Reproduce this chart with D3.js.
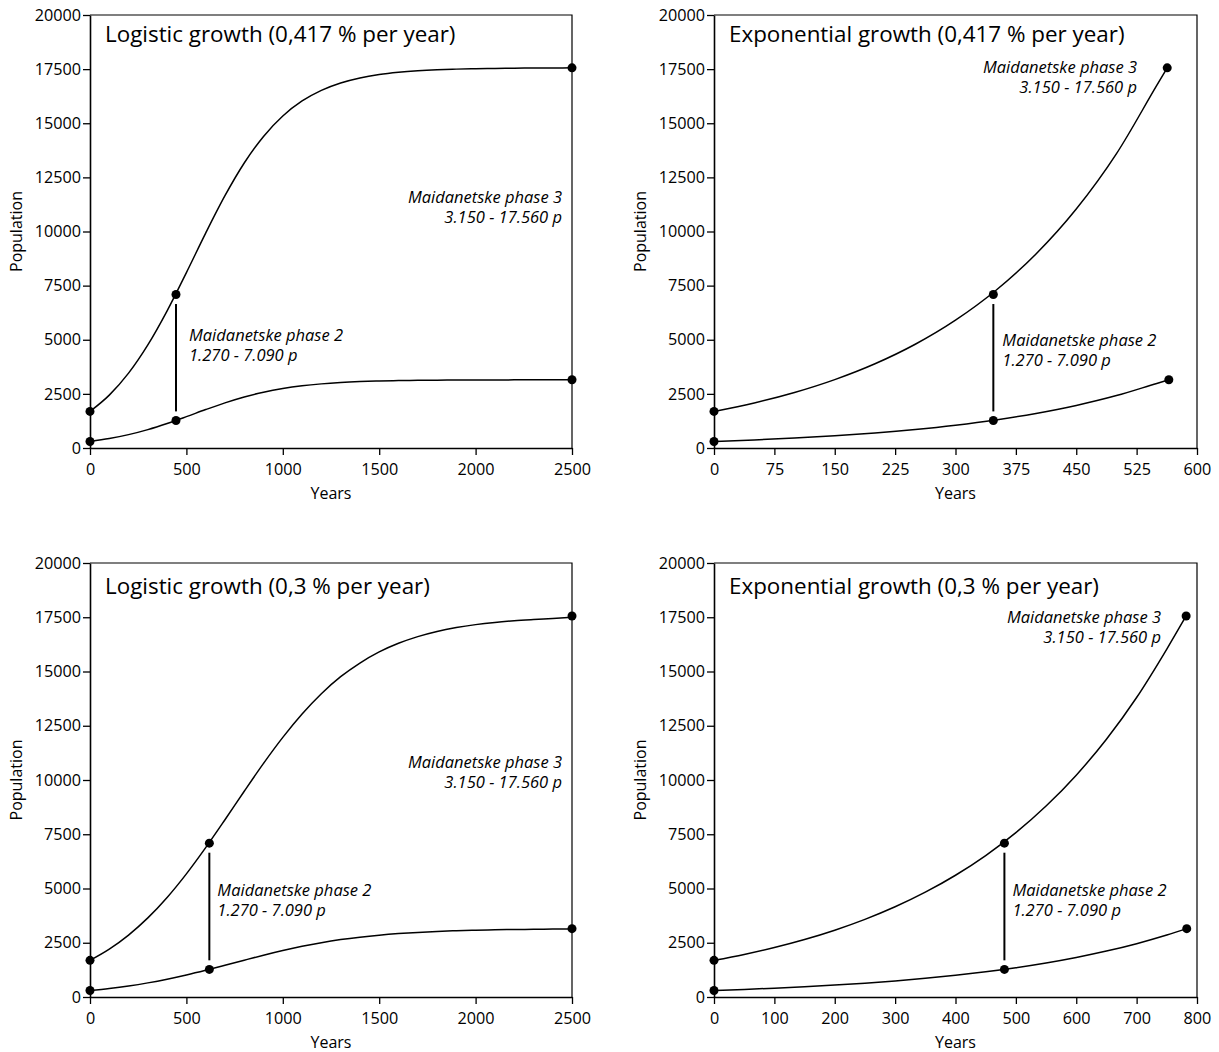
<!DOCTYPE html>
<html>
<head>
<meta charset="utf-8">
<script src="https://cdn.jsdelivr.net/npm/d3@7"></script>
<style>
  html, body { margin: 0; padding: 0; background: #fff; }
  svg { display: block; font-family: "Open Sans", "Noto Sans", sans-serif; }
</style>
</head>
<body>
<svg id="chart" width="1219" height="1052"></svg>
<script>
// ---------------- DATA ----------------
const yTicks = [0, 2500, 5000, 7500, 10000, 12500, 15000, 17500, 20000];
const xTicksLogistic = [0, 500, 1000, 1500, 2000, 2500];
const xTicksExp417 = [0, 75, 150, 225, 300, 375, 450, 525, 600];
const xTicksExp3 = [0, 100, 200, 300, 400, 500, 600, 700, 800];

const titles = [
  "Logistic growth (0,417 % per year)",
  "Exponential growth (0,417 % per year)",
  "Logistic growth (0,3 % per year)",
  "Exponential growth (0,3 % per year)"
];
const phase2Label = ["Maidanetske phase 2", "1.270 - 7.090 p"];
const phase3Label = ["Maidanetske phase 3", "3.150 - 17.560 p"];

// Logistic, 0.417 % per year
const logYears = [0,100,200,300,400,500,600,700,800,900,1000,1100,1200,1300,1400,1500,1600,1700,1800,1900,2000,2100,2200,2300,2400,2500];
const log417Upper = [1690,2443,3458,4763,6337,8103,9926,11653,13163,14392,15335,16028,16519,16860,17093,17250,17353,17423,17470,17500,17521,17534,17543,17550,17555,17558];
const log417Lower = [301,436,617,850,1132,1448,1776,2086,2358,2579,2749,2874,2962,3024,3066,3094,3113,3125,3134,3139,3143,3145,3147,3148,3149,3150];
// Logistic, 0.3 % per year
const log3Upper = [1690,2207,2854,3645,4587,5674,6881,8167,9483,10767,11965,13041,13977,14760,15391,15903,16300,16608,16846,17024,17160,17262,17338,17395,17445,17500];
const log3Lower = [301,394,509,651,819,1013,1229,1460,1696,1927,2142,2336,2504,2645,2759,2851,2923,2978,3021,3053,3078,3096,3110,3120,3128,3136];
// Exponential, 0.417 % per year
const exp417UpperYears = [0,50,100,150,200,250,300,350,400,450,500,550,563];
const exp417Upper = [1690,2082,2564,3159,3891,4793,5905,7274,8960,11037,13596,16748,17560];
const exp417LowerYears = [0,50,100,150,200,250,300,350,400,450,500,550,565];
const exp417Lower = [301,371,457,563,693,854,1052,1295,1596,1966,2421,2983,3150];
// Exponential, 0.3 % per year
const exp3UpperYears = [0,50,100,150,200,250,300,350,400,450,500,550,600,650,700,750,782];
const exp3Upper = [1690,1963,2281,2650,3079,3578,4157,4830,5611,6519,7574,8800,10224,11878,13801,16034,17560];
const exp3LowerYears = [0,50,100,150,200,250,300,350,400,450,500,550,600,650,700,750,783];
const exp3Lower = [301,350,406,472,548,637,740,860,999,1161,1349,1567,1821,2116,2458,2856,3150];

// Marked points: [year, population]
const log417Points = [[0,1690],[446,7090],[2500,17560],[0,301],[446,1270],[2500,3150]];
const exp417Points = [[0,1690],[347,7090],[563,17560],[0,301],[347,1270],[565,3150]];
const log3Points   = [[0,1690],[619,7090],[2500,17560],[0,301],[619,1270],[2500,3150]];
const exp3Points   = [[0,1690],[481,7090],[782,17560],[0,301],[481,1270],[783,3150]];
// Connector between phase 2 points: [year, from, to]
const connectors = [[446,1690,6650],[347,1690,6650],[619,1690,6650],[481,1690,6650]];

// ---------------- LAYOUT ----------------
const zip = (xs, ys) => xs.map((x, i) => [x, ys[i]]);
const panels = [
  { x0: 90, x1: 572, y0: 15, y1: 448, xMax: 2500, xTicks: xTicksLogistic,
    curves: [zip(logYears, log417Upper), zip(logYears, log417Lower)], points: log417Points,
    conn: connectors[0], titleDy: 27,
    p2: { dx: 13, cy: 335 }, p3: { right: 562, cy: 197 } },
  { x0: 714, x1: 1197, y0: 15, y1: 448, xMax: 600, xTicks: xTicksExp417,
    curves: [zip(exp417UpperYears, exp417Upper), zip(exp417LowerYears, exp417Lower)], points: exp417Points,
    conn: connectors[1], titleDy: 27,
    p2: { dx: 9, cy: 340 }, p3: { right: 1137, cy: 67 } },
  { x0: 90, x1: 572, y0: 563, y1: 997, xMax: 2500, xTicks: xTicksLogistic,
    curves: [zip(logYears, log3Upper), zip(logYears, log3Lower)], points: log3Points,
    conn: connectors[2], titleDy: 31,
    p2: { dx: 8, cy: 890 }, p3: { right: 562, cy: 762 } },
  { x0: 714, x1: 1197, y0: 563, y1: 997, xMax: 800, xTicks: xTicksExp3,
    curves: [zip(exp3UpperYears, exp3Upper), zip(exp3LowerYears, exp3Lower)], points: exp3Points,
    conn: connectors[3], titleDy: 31,
    p2: { dx: 8, cy: 890 }, p3: { right: 1161, cy: 617 } }
];

const svg = d3.select("#chart");
const FONT = '"Open Sans", "Noto Sans", sans-serif';

panels.forEach((p, i) => {
  const x = d3.scaleLinear().domain([0, p.xMax]).range([p.x0, p.x1]);
  const y = d3.scaleLinear().domain([0, 20000]).range([p.y1, p.y0]);
  const g = svg.append("g");

  // box top & right
  g.append("path")
    .attr("d", `M${p.x0},${p.y0}H${p.x1}V${p.y1}`)
    .attr("fill", "none").attr("stroke", "#000").attr("stroke-width", 1.2);

  // axes
  const ay = g.append("g").attr("transform", `translate(${p.x0},0)`)
    .call(d3.axisLeft(y).tickValues(yTicks).tickFormat(d3.format("d")).tickSize(7).tickSizeOuter(0).tickPadding(2));
  const ax = g.append("g").attr("transform", `translate(0,${p.y1})`)
    .call(d3.axisBottom(x).tickValues(p.xTicks).tickFormat(d3.format("d")).tickSize(7).tickSizeOuter(0).tickPadding(8));
  [ay, ax].forEach(a => {
    a.selectAll("text").attr("font-size", 16.2).attr("fill", "#000").attr("font-family", FONT);
    a.selectAll("line").attr("stroke", "#000").attr("stroke-width", 1.3);
    a.select(".domain").attr("stroke", "#000").attr("stroke-width", 1.6);
  });

  // axis labels
  g.append("text").attr("x", (p.x0 + p.x1) / 2).attr("y", p.y1 + 51)
    .attr("text-anchor", "middle").attr("font-size", 16).text("Years");
  g.append("text")
    .attr("transform", `translate(${p.x0 - 68},${(p.y0 + p.y1) / 2}) rotate(-90)`)
    .attr("text-anchor", "middle").attr("font-size", 16).text("Population");

  // title
  g.append("text").attr("x", p.x0 + 15).attr("y", p.y0 + p.titleDy)
    .attr("font-size", 22.4).text(titles[i]);

  // curves
  const line = d3.line().x(d => x(d[0])).y(d => y(d[1])).curve(d3.curveMonotoneX);
  p.curves.forEach(c => {
    g.append("path").attr("d", line(c)).attr("fill", "none")
      .attr("stroke", "#000").attr("stroke-width", 1.5);
  });

  // connector
  g.append("line")
    .attr("x1", x(p.conn[0])).attr("x2", x(p.conn[0]))
    .attr("y1", y(p.conn[1])).attr("y2", y(p.conn[2]))
    .attr("stroke", "#000").attr("stroke-width", 2);

  // points
  g.selectAll("circle.pt").data(p.points).join("circle")
    .attr("class", "pt")
    .attr("cx", d => x(d[0])).attr("cy", d => y(d[1])).attr("r", 4.5).attr("fill", "#000");

  // phase 2 label (one text element per line)
  phase2Label.forEach((s, k) => {
    g.append("text").attr("font-size", 16.5).attr("font-style", "italic")
      .attr("x", x(p.conn[0]) + p.p2.dx).attr("y", p.p2.cy + 6 + k * 19.5).text(s);
  });
  // phase 3 label
  phase3Label.forEach((s, k) => {
    g.append("text").attr("font-size", 16.5).attr("font-style", "italic").attr("text-anchor", "end")
      .attr("x", p.p3.right).attr("y", p.p3.cy + 6 + k * 19.5).text(s);
  });
});
</script>
</body>
</html>
